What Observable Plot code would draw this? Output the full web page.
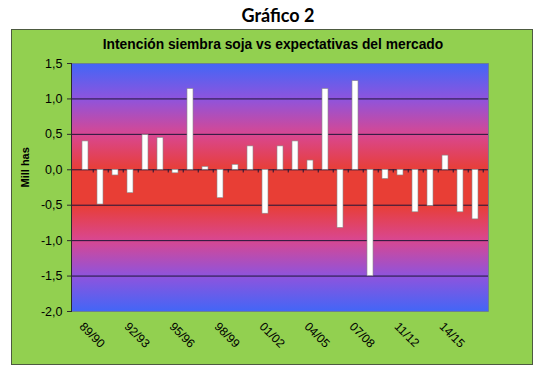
<!DOCTYPE html>
<html>
<head>
<meta charset="utf-8">
<script src="https://cdn.jsdelivr.net/npm/d3@7"></script>
<script src="https://cdn.jsdelivr.net/npm/@observablehq/plot@0.6"></script>
<style>
  body { margin: 0; background: #ffffff; }
  #wrap { position: relative; width: 550px; height: 381px; overflow: hidden; font-family: "Liberation Sans", Arial, sans-serif; }
  #title { position: absolute; left: 0; top: 4px; width: 556px; text-align: center; font-family: Lato, "Open Sans", sans-serif; font-weight: 700; font-size: 18px; color: #000; }
  #box { position: absolute; left: 11px; top: 29px; width: 520px; height: 334px; background: #92d050; border: 1px solid #4d5a40; }
  #subtitle { position: absolute; left: 0; top: 37px; width: 546px; text-align: center; font-weight: 700; font-size: 13.8px; color: #000; }
  #chart { position: absolute; left: 0; top: 0; }
</style>
</head>
<body>
<div id="wrap">
  <div id="title">Gráfico 2</div>
  <div id="box"></div>
  <div id="subtitle">Intención siembra soja vs expectativas del mercado</div>
  <div id="chart"></div>
</div>
<script>
const seasons = ["89/90","90/91","91/92","92/93","93/94","94/95","95/96","96/97","97/98","98/99",
  "99/00","00/01","01/02","02/03","03/04","04/05","05/06","06/07","07/08","08/09",
  "10/11","11/12","12/13","13/14","14/15","15/16","16/17"];
const values = [0.40,-0.49,-0.08,-0.33,0.49,0.45,-0.05,1.14,0.04,-0.40,
  0.07,0.33,-0.62,0.33,0.40,0.13,1.14,-0.82,1.25,-1.50,
  -0.13,-0.08,-0.60,-0.51,0.20,-0.60,-0.70];
const xTickLabels = ["89/90","92/93","95/96","98/99","01/02","04/05","07/08","11/12","14/15"];
const yTicks = [1.5, 1.0, 0.5, 0.0, -0.5, -1.0, -1.5, -2.0];
const gridValues = [1.0, 0.5, 0.0, -0.5, -1.0, -1.5];

const data = seasons.map((s, i) => ({season: s, value: values[i]}));
const fmt = d => d.toFixed(1).replace(".", ",");

const chart = Plot.plot({
  width: 550,
  height: 381,
  marginLeft: 71,
  marginRight: 62,
  marginTop: 63,
  marginBottom: 70,
  style: {background: "transparent", fontFamily: "'Liberation Sans', Arial, sans-serif", fontSize: "12px", color: "#000"},
  x: {type: "band", domain: seasons, paddingInner: 0.6, paddingOuter: 0.3},
  y: {domain: [-2, 1.5]},
  marks: [
    Plot.frame({fill: "url(#bgGrad)", stroke: "#6b7c8c", strokeWidth: 0.8}),
    Plot.ruleY(gridValues, {stroke: "#1e1638", strokeWidth: 1}),
    Plot.ruleX(seasons, {x: d => d, y1: 0, y2: -0.045, dx: 417 / 27 / 2, stroke: "#1e1638", strokeWidth: 1}),
    Plot.barY(data, {x: "season", y: "value", fill: "#ffffff", stroke: "#8a8a8a", strokeWidth: 0.6}),
    Plot.frame({anchor: "left", stroke: "#2b2b2b", strokeWidth: 1}),
    Plot.axisY({ticks: yTicks, tickFormat: fmt, tickSize: 4, tickPadding: 5, label: null, fontSize: 12.5, stroke: "#2b2b2b"}),
    Plot.axisX({ticks: xTickLabels, tickSize: 0, tickRotate: 45, textAnchor: "start", lineAnchor: "middle", tickPadding: 13, dx: -4, label: null, fontSize: 12}),
    Plot.text(["Mill has"], {frameAnchor: "left", dx: -46, rotate: -90, fontWeight: "bold", fontSize: 11, fill: "#000"})
  ]
});

const svg = d3.select(chart);
const defs = svg.insert("defs", ":first-child");
const grad = defs.append("linearGradient").attr("id", "bgGrad").attr("x1", 0).attr("y1", 0).attr("x2", 0).attr("y2", 1);
[[0, "#4266f6"], [0.14, "#8d54de"], [0.29, "#d9478f"], [0.43, "#e83e35"], [0.57, "#e83e35"], [0.71, "#d9478f"], [0.86, "#8d54de"], [1, "#4266f6"]]
  .forEach(([o, c]) => grad.append("stop").attr("offset", o).attr("stop-color", c));

document.getElementById("chart").appendChild(chart);
</script>
</body>
</html>
